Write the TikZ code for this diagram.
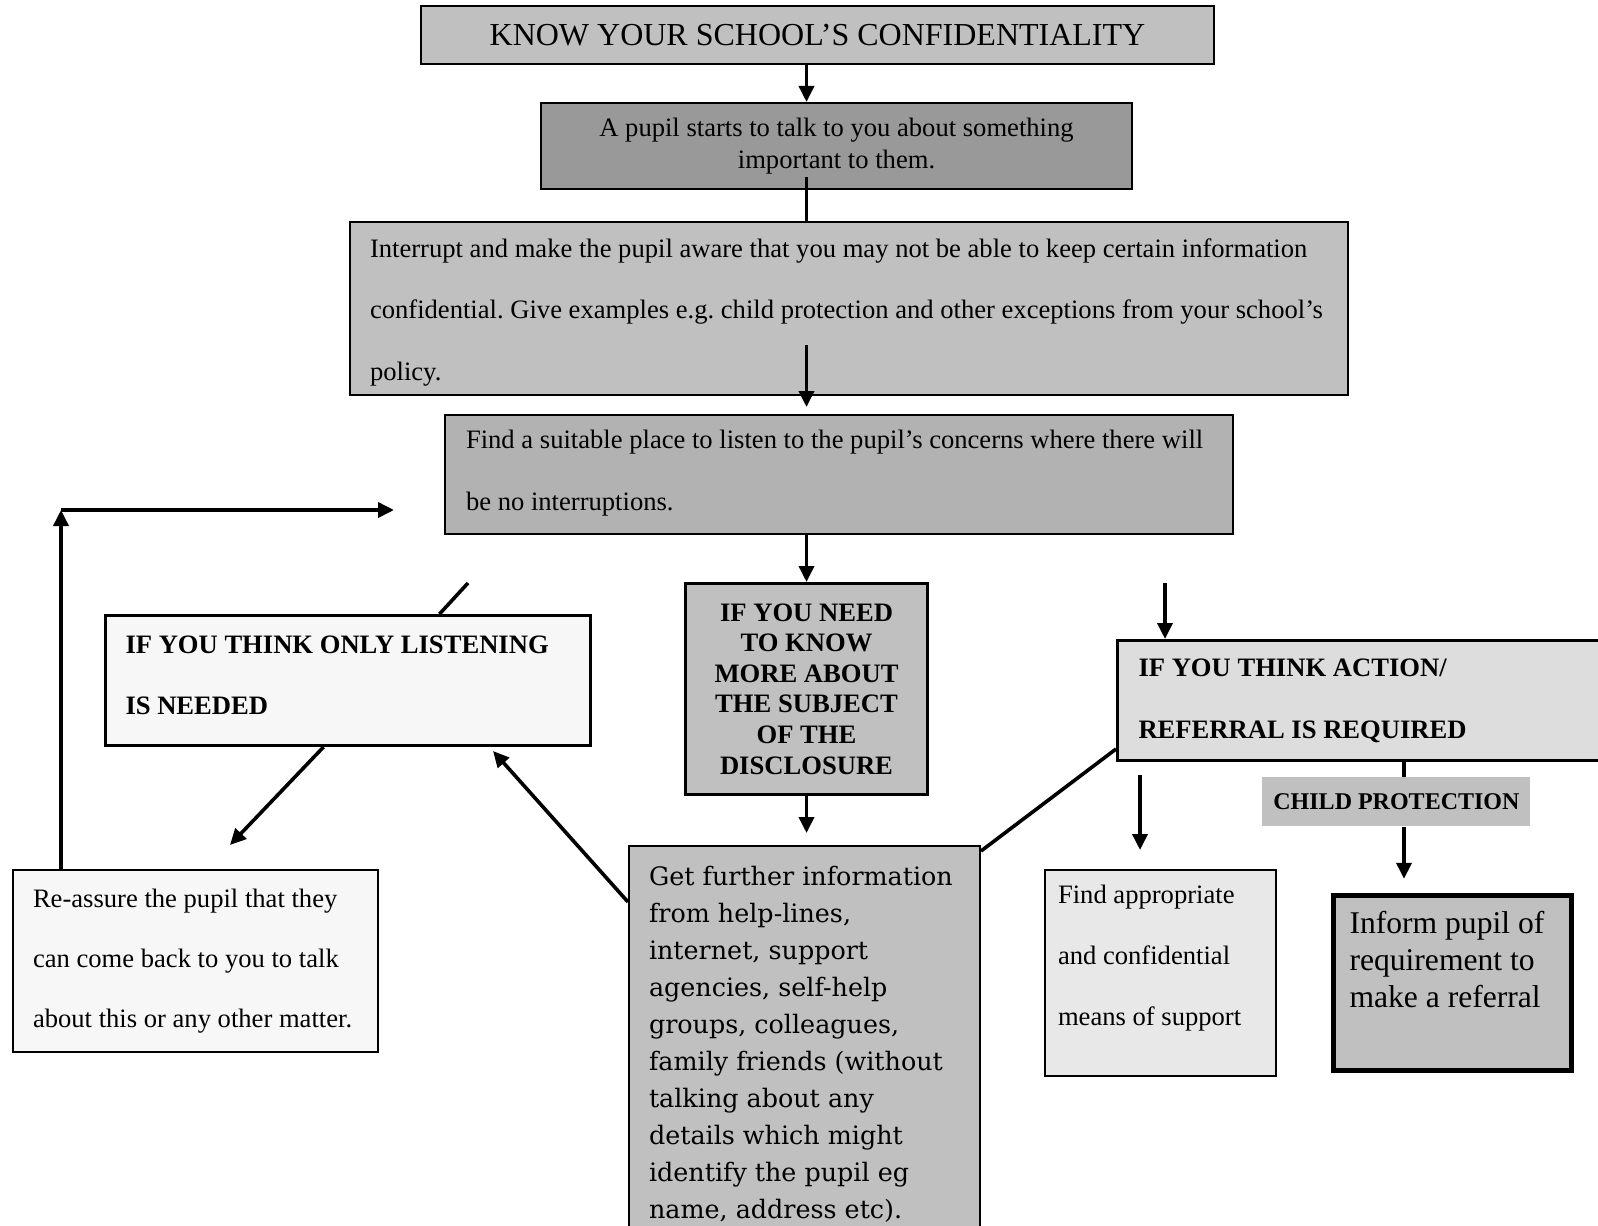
\documentclass[tikz,border=0pt]{standalone}
\usepackage{fontspec}
\setmainfont{Liberation Serif}
\newfontfamily\wideserif{DejaVu Serif}
\usepackage{tikz}
\usetikzlibrary{arrows.meta}
\definecolor{boxgray}{RGB}{192,192,192}
\definecolor{pupilgray}{RGB}{153,153,153}
\definecolor{placegray}{RGB}{178,178,178}
\definecolor{palegray}{RGB}{247,247,247}
\definecolor{actiongray}{RGB}{221,221,221}
\definecolor{supportgray}{RGB}{232,232,232}
\frenchspacing

\begin{document}
\begin{tikzpicture}[x=0.5pt,y=-0.5pt,
	box/.style={draw,line width=1pt,anchor=north west,inner ysep=0pt,execute at begin node={\spaceskip=0pt\xspaceskip=0pt}},
	arr/.style={line width=1.8pt,-{Triangle[length=8pt,width=7.5pt]}},
	conn/.style={line width=1.8pt}]
\useasboundingbox (0,0) rectangle (1598,1225);
\node [box,fill=boxgray,minimum width=396.5pt,minimum height=29pt,font=\fontsize{16}{19}\selectfont] (know) at (420,5) {KNOW YOUR SCHOOL’S CONFIDENTIALITY};
\node [box,fill=pupilgray,minimum width=295.5pt,minimum height=43pt,align=center,font=\fontsize{13.3}{16}\selectfont] (pupil) at (540,102) {A pupil starts to talk to you about something\\important to them.};
\node [box,fill=boxgray,inner xsep=10pt,text width=479pt,text height=17.5pt,text depth=69pt,font=\fontsize{13.3}{30.8}\selectfont] (interrupt) at (349,221) {Interrupt and make the pupil aware that you may not be able to keep certain information\\confidential. Give examples e.g. child protection and other exceptions from your school’s\\policy.};
\node [box,fill=placegray,inner xsep=10.5pt,text width=373pt,text height=16.5pt,text depth=43pt,font=\fontsize{13.3}{31.2}\selectfont] (place) at (444,414) {Find a suitable place to listen to the pupil’s concerns where there will\\be no interruptions.};
\node [box,fill=boxgray,line width=1.5pt,minimum width=121pt,minimum height=105.5pt,align=center,font=\bfseries\fontsize{13.3}{15.3}\selectfont] (knowmore) at (684,582) {IF YOU NEED\\TO KNOW\\MORE ABOUT\\THE SUBJECT\\OF THE\\DISCLOSURE};
\node [box,fill=palegray,line width=1.5pt,inner xsep=10pt,text width=222.5pt,text height=18.9pt,text depth=46.1pt,font=\bfseries\fontsize{13.3}{30.5}\selectfont] (listen) at (104,614) {IF YOU THINK ONLY LISTENING\\IS NEEDED};
\node [box,fill=palegray,inner xsep=10pt,text width=162.5pt,text height=18.5pt,text depth=72.5pt,font=\fontsize{13.3}{30}\selectfont] (reassure) at (12,869) {Re-assure the pupil that they\\can come back to you to talk\\about this or any other matter.};
\node [box,fill=boxgray,inner xsep=10pt,text width=155.5pt,text height=19.5pt,text depth=183pt,font=\wideserif\fontsize{12.7}{18.5}\selectfont] (further) at (628,845) {Get further information\\from help-lines,\\internet, support\\agencies, self-help\\groups, colleagues,\\family friends (without\\talking about any\\details which might\\identify the pupil eg\\name, address etc).};
\node [box,fill=actiongray,line width=1.5pt,inner xsep=10.5pt,text width=241pt,minimum height=60pt,font=\bfseries\fontsize{13.3}{31}\selectfont] (action) at (1116,639) {IF YOU THINK ACTION/\\REFERRAL IS REQUIRED};
\node [anchor=north west,fill=boxgray,minimum width=134pt,minimum height=24.5pt,font=\bfseries\fontsize{12}{14}\selectfont] (child) at (1262,777) {CHILD PROTECTION};
\node [box,fill=supportgray,inner xsep=6.5pt,text width=102.5pt,text height=16.5pt,text depth=86.5pt,font=\fontsize{13.3}{30.5}\selectfont] (support) at (1044,869) {Find appropriate\\and confidential\\means of support};
\node [box,fill=boxgray,line width=2.5pt,inner xsep=8pt,text width=103pt,text height=19pt,text depth=68.5pt,font=\fontsize{15.8}{18.5}\selectfont] (inform) at (1331,893) {Inform pupil of\\requirement to\\make a referral};
\coordinate (loop) at (61,510);
\coordinate (back) at (394,510);
\coordinate (gap) at (468,583);
\coordinate (rtip) at (230,845);
\coordinate (ftip) at (493,751);
\coordinate (ain) at (1165,583);
\coordinate (s1) at (1140,775);
\coordinate (s2) at (1140,850);
\coordinate (cp) at (1404,0);
\draw [arr] (know.south -| knowmore.north) -- (pupil.north -| knowmore.north);
\draw [conn] (pupil.south -| knowmore.north) ++(0,-13) -- (interrupt.north -| knowmore.north);
\draw [arr] (interrupt.south -| knowmore.north) ++(0,-51) -- ++(0,62);
\draw [arr] (place.south -| knowmore.north) -- (knowmore.north);
\draw [arr] (knowmore.south) -- ++(0,37);
\draw [arr] (reassure.north -| loop) -- (loop);
\draw [arr] (loop) -- (back);
\draw [conn] (gap) -- ([xshift=45.75pt]listen.north);
\draw [arr] ([xshift=-12.25pt]listen.south) -- (rtip);
\draw [arr] (further.north west) ++(0,57) -- (ftip);
\draw [conn] (further.north east) ++(0,6) -- ([yshift=6.5pt]action.south west);
\draw [arr] (ain) -- (action.north -| ain);
\draw [arr] (s1) -- (s2);
\draw [conn] (action.south -| cp) -- (child.north -| cp);
\draw [arr] (child.south -| cp) -- ++(0,52);
\end{tikzpicture}
\end{document}
